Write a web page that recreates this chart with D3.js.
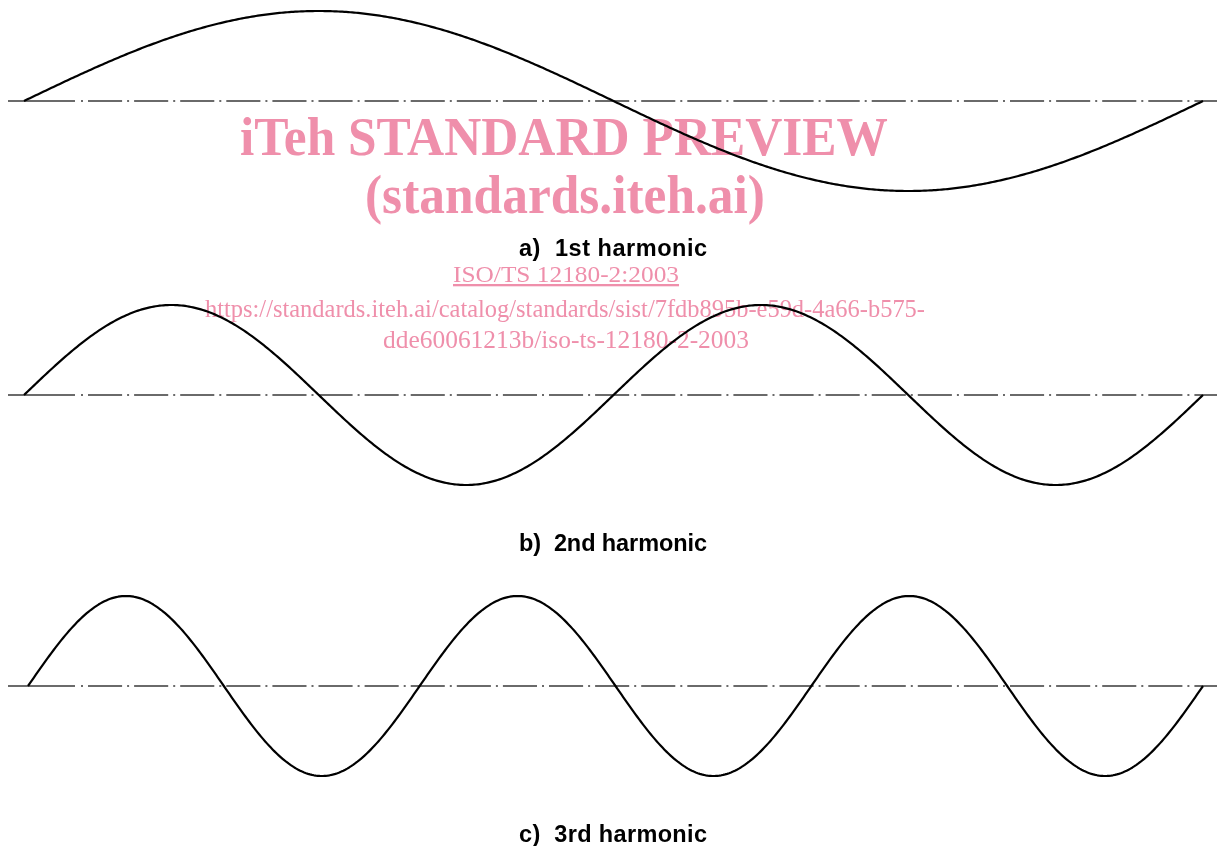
<!DOCTYPE html>
<html>
<head>
<meta charset="utf-8">
<script src="https://cdn.jsdelivr.net/npm/d3@7"></script>
<style>
  html, body { margin: 0; padding: 0; background: #fff; }
  svg { display: block; }
</style>
</head>
<body>
<svg id="chart" width="1219" height="846"></svg>
<script>
// ---- data ----
const harmonicOrders = [1, 2, 3];
const panelLabels = ["a)\u00a0\u00a01st harmonic", "b)\u00a0\u00a02nd harmonic", "c)\u00a0\u00a03rd harmonic"];
const amplitudes = [1, 1, 1];
const phaseStarts = [0, 0, 0.0034];   // fraction of the span where each wave starts
const watermarkLines = ["iTeh STANDARD PREVIEW", "(standards.iteh.ai)"];
const watermarkSmall = ["ISO/TS 12180-2:2003",
  "https://standards.iteh.ai/catalog/standards/sist/7fdb895b-e59d-4a66-b575-",
  "dde60061213b/iso-ts-12180-2-2003"];

// ---- layout ----
const svg = d3.select("#chart");
const panelCenters = [101, 395, 686];
const panelAmp = 90;
const labelBaselines = [256, 551, 842];

const xAxisLine = d3.scaleLinear().domain([0, 1]).range([8, 1217]);
const xWave = d3.scaleLinear().domain([0, 1]).range([24, 1203]);
const samples = d3.range(0, 1.00001, 1 / 600);

harmonicOrders.forEach((n, i) => {
  const y = d3.scaleLinear().domain([-1, 1]).range([panelCenters[i] + panelAmp, panelCenters[i] - panelAmp]);
  const g = svg.append("g");
  // center line (dash-dot): long leading dash then repeating dot-dash
  g.append("line")
    .attr("x1", xAxisLine(0)).attr("x2", 75)
    .attr("y1", y(0)).attr("y2", y(0))
    .attr("stroke", "#3a3a3a").attr("stroke-width", 1.4);
  g.append("line")
    .attr("x1", 81).attr("x2", xAxisLine(1))
    .attr("y1", y(0)).attr("y2", y(0))
    .attr("stroke", "#3a3a3a").attr("stroke-width", 1.4)
    .attr("stroke-dasharray", "2,5,34.1,5");
  // wave
  const x0 = xWave(phaseStarts[i]);
  const xs = d3.scaleLinear().domain([0, 1]).range([x0, xWave(1)]);
  const line = d3.line()
    .x(t => xs(t))
    .y(t => y(amplitudes[i] * Math.sin(2 * Math.PI * n * t)));
  g.append("path").datum(samples)
    .attr("d", line)
    .attr("fill", "none")
    .attr("stroke", "#000")
    .attr("stroke-width", 2.2)
    .attr("stroke-linejoin", "round");
  // label
  g.append("text")
    .attr("x", 613).attr("y", labelBaselines[i])
    .attr("text-anchor", "middle")
    .attr("font-family", "'Liberation Sans', Arial, sans-serif")
    .attr("font-weight", "bold")
    .attr("font-size", 23.5)
    .attr("textLength", 188).attr("lengthAdjust", "spacing")
    .attr("fill", "#000")
    .text(panelLabels[i]);
});

// watermark on top with multiply blending
const wm = svg.append("g").attr("fill", "#ef8fab").style("mix-blend-mode", "multiply")
  .attr("font-family", "'Liberation Serif', 'Times New Roman', serif")
  .attr("text-anchor", "middle");
function wmText(x, y, size, bold, len, txt, underline) {
  const t = wm.append("text").attr("x", x).attr("y", y).attr("font-size", size)
    .attr("textLength", len).attr("lengthAdjust", "spacingAndGlyphs").text(txt);
  if (bold) t.attr("font-weight", "bold");
  if (underline) t.attr("text-decoration", "underline");
  return t;
}
wmText(564, 155, 55, true, 648, watermarkLines[0]);
wmText(565, 213, 55, true, 400, watermarkLines[1]);
wmText(566, 282, 23, false, 226, watermarkSmall[0], true);
wmText(565, 317, 25, false, 720, watermarkSmall[1]);
wmText(566, 348, 25, false, 366, watermarkSmall[2]);
</script>
</body>
</html>
